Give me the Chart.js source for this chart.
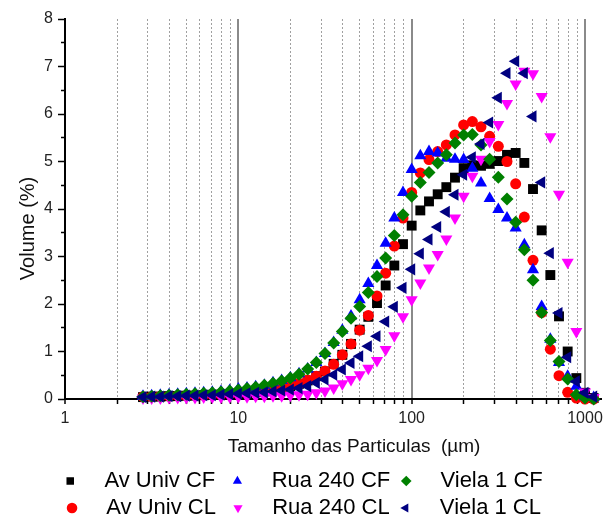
<!DOCTYPE html>
<html>
<head>
<meta charset="utf-8">
<script src="https://cdn.jsdelivr.net/npm/chart.js@4.4.0/dist/chart.umd.min.js"></script>
<style>
  html, body { margin: 0; padding: 0; background: #fff; }
  #chart { display: block; }
</style>
</head>
<body>
<canvas id="chart" width="608" height="524"></canvas>
<script>
// particle size classes (um), 20 per decade
const sizes = [2.818, 3.162, 3.548, 3.981, 4.467, 5.012, 5.623, 6.310, 7.079, 7.943, 8.913,
    10.00, 11.22, 12.59, 14.13, 15.85, 17.78, 19.95, 22.39, 25.12, 28.18,
    31.62, 35.48, 39.81, 44.67, 50.12, 56.23, 63.10, 70.79, 79.43, 89.13,
    100.0, 112.2, 125.9, 141.3, 158.5, 177.8, 199.5, 223.9, 251.2, 281.8,
    316.2, 354.8, 398.1, 446.7, 501.2, 562.3, 631.0, 707.9, 794.3, 891.3,
    1000, 1122];

// volume (%) per size class
const avUnivCF = [0.04, 0.05, 0.05, 0.06, 0.06, 0.07, 0.07, 0.08, 0.09, 0.09, 0.10, 0.11,
    0.12, 0.14, 0.16, 0.19, 0.22, 0.27, 0.32, 0.39, 0.48, 0.58,
    0.74, 0.93, 1.16, 1.46, 1.73, 2.02, 2.39, 2.81, 3.26, 3.65,
    3.97, 4.16, 4.31, 4.46, 4.66, 4.86, 4.92, 4.91, 4.95, 5.01,
    5.14, 5.18, 4.97, 4.42, 3.55, 2.61, 1.74, 1.00, 0.44, 0.13, 0.02];
const avUnivCL = [0.05, 0.05, 0.06, 0.06, 0.07, 0.07, 0.08, 0.08, 0.09, 0.10, 0.11, 0.12,
    0.13, 0.15, 0.17, 0.20, 0.23, 0.28, 0.33, 0.40, 0.48, 0.59,
    0.73, 0.93, 1.16, 1.45, 1.76, 2.17, 2.65, 3.22, 3.81, 4.35,
    4.76, 5.04, 5.21, 5.35, 5.56, 5.77, 5.84, 5.73, 5.53, 5.32,
    5.00, 4.53, 3.83, 2.92, 1.82, 1.05, 0.49, 0.14, 0.02, 0, 0];
const rua240CF = [0.06, 0.07, 0.08, 0.09, 0.10, 0.11, 0.12, 0.13, 0.14, 0.16, 0.18, 0.21,
    0.23, 0.26, 0.29, 0.34, 0.39, 0.45, 0.53, 0.63, 0.77, 0.96,
    1.19, 1.45, 1.75, 2.09, 2.43, 2.81, 3.28, 3.81, 4.35, 4.83,
    5.12, 5.21, 5.18, 5.07, 5.05, 5.04, 4.86, 4.55, 4.22, 3.99,
    3.81, 3.60, 3.25, 2.72, 1.95, 1.26, 0.77, 0.48, 0.27, 0.05, 0.03];
const rua240CL = [0.02, 0.02, 0.02, 0.03, 0.03, 0.03, 0.03, 0.04, 0.04, 0.04, 0.05, 0.05,
    0.05, 0.06, 0.06, 0.07, 0.07, 0.08, 0.09, 0.10, 0.13, 0.17,
    0.23, 0.32, 0.41, 0.51, 0.65, 0.81, 1.04, 1.33, 1.73, 2.09,
    2.44, 2.76, 3.04, 3.37, 3.81, 4.27, 4.69, 5.05, 5.42, 5.78,
    6.22, 6.63, 6.90, 6.85, 6.37, 5.52, 4.31, 2.88, 1.42, 0.15, 0.03];
const viela1CF = [0.05, 0.06, 0.07, 0.08, 0.09, 0.10, 0.11, 0.12, 0.13, 0.15, 0.17, 0.19,
    0.22, 0.25, 0.29, 0.33, 0.38, 0.44, 0.52, 0.63, 0.77, 0.96,
    1.18, 1.42, 1.70, 1.95, 2.24, 2.58, 2.97, 3.44, 3.88, 4.27,
    4.56, 4.77, 4.97, 5.14, 5.39, 5.56, 5.57, 5.35, 5.05, 4.67,
    4.21, 3.72, 3.14, 2.50, 1.82, 1.23, 0.79, 0.42, 0.09, 0.02, 0];
const viela1CL = [0.04, 0.05, 0.05, 0.06, 0.06, 0.07, 0.07, 0.08, 0.08, 0.09, 0.10, 0.11,
    0.12, 0.13, 0.14, 0.16, 0.18, 0.20, 0.23, 0.27, 0.34, 0.41,
    0.51, 0.62, 0.76, 0.90, 1.11, 1.32, 1.63, 1.94, 2.34, 2.73,
    3.06, 3.36, 3.62, 3.94, 4.30, 4.72, 5.09, 5.37, 5.82, 6.34,
    6.86, 7.11, 6.86, 5.95, 4.56, 3.07, 1.81, 0.88, 0.37, 0.13, 0.05];

const xTickLabels = [1, 10, 100, 1000];
const yTickLabels = [0, 1, 2, 3, 4, 5, 6, 7, 8];
const legendOrder = ['Av Univ CF', 'Rua 240 CF', 'Viela 1 CF', 'Av Univ CL', 'Rua 240 CL', 'Viela 1 CL'];

// 1..9, 10..90, 100..900, 1000
const xTickValues = [];
[1, 10, 100].forEach(p => { for (let m = 1; m <= 9; m++) xTickValues.push(m * p); });
xTickValues.push(1000);
const yTickValues = [];
for (let v = 0; v <= 8; v += 0.5) yTickValues.push(v);

const isDecade = v => xTickLabels.includes(v);
const toPoints = vals => vals.map((v, i) => ({ x: sizes[i], y: v }));

const series = (label, vals, color, pointStyle, rotation, radius, order) => ({
    label,
    data: toPoints(vals),
    pointStyle,
    pointRotation: rotation,
    pointRadius: radius,
    backgroundColor: color,
    borderColor: color,
    borderWidth: 0,
    showLine: false,
    clip: false,
    order
});

Chart.defaults.font.family = '"Liberation Sans", Arial, sans-serif';

const ctx = document.getElementById('chart').getContext('2d');
const psdChart = new Chart(ctx, {
    type: 'scatter',
    data: {
        datasets: [
            series('Av Univ CF', avUnivCF, '#000000', 'rect', 0, 7, 5),
            series('Av Univ CL', avUnivCL, '#ff0000', 'circle', 0, 5.5, 4),
            series('Rua 240 CF', rua240CF, '#0000ff', 'triangle', 0, 7, 3),
            series('Rua 240 CL', rua240CL, '#ff00ff', 'triangle', 180, 7, 2),
            series('Viela 1 CF', viela1CF, '#008000', 'rectRot', 0, 6.5, 1),
            series('Viela 1 CL', viela1CL, '#000080', 'triangle', 270, 7, 0)
        ]
    },
    options: {
        responsive: false,
        animation: false,
        devicePixelRatio: 1,
        events: [],
        layout: { padding: { top: 19, right: 6, bottom: 0, left: 0 } },
        scales: {
            x: {
                type: 'logarithmic',
                min: 1,
                max: 1235,
                afterBuildTicks: scale => { scale.ticks = xTickValues.map(v => ({ value: v })); },
                afterFit: scale => { scale.height = 66; },
                ticks: {
                    autoSkip: false,
                    maxRotation: 0,
                    minRotation: 0,
                    padding: 5,
                    color: '#222',
                    font: { size: 16 },
                    callback: value => isDecade(value) ? String(value) : ''
                },
                grid: {
                    color: c => (c.tick && isDecade(c.tick.value)) ? '#8a8a8a' : '#a0a0a0',
                    lineWidth: c => (c.tick && isDecade(c.tick.value)) ? 2 : 1,
                    tickColor: '#000',
                    tickLength: 5,
                    tickWidth: 1.5
                },
                border: {
                    color: '#000',
                    width: 2,
                    dash: c => (c.tick && !isDecade(c.tick.value)) ? [2, 2] : []
                },
                title: {
                    display: true,
                    text: '        Tamanho das Particulas  (\u00b5m)',
                    color: '#111',
                    font: { size: 19 },
                    padding: { top: 4, bottom: 7 }
                }
            },
            y: {
                min: 0,
                max: 8,
                afterBuildTicks: scale => { scale.ticks = yTickValues.map(v => ({ value: v })); },
                afterFit: scale => { scale.width = 65; },
                ticks: {
                    padding: 5,
                    color: '#222',
                    font: { size: 16 },
                    callback: value => yTickLabels.includes(value) ? String(value) : ''
                },
                grid: {
                    drawOnChartArea: false,
                    tickLength: 7,
                    tickColor: '#000',
                    tickWidth: 1.5,
                    // minor ticks: only the inner part of the tick is drawn
                    tickBorderDash: c => (c.tick && !yTickLabels.includes(c.tick.value)) ? [0, 3, 20] : []
                },
                border: { color: '#000', width: 2 },
                title: {
                    display: true,
                    text: 'Volume (%)       ',
                    color: '#111',
                    font: { size: 20 },
                    padding: { top: 16, bottom: 0 }
                }
            }
        },
        plugins: {
            tooltip: { enabled: false },
            legend: {
                position: 'bottom',
                align: 'center',
                maxHeight: 59,
                labels: {
                    usePointStyle: true,
                    boxWidth: 22,
                    boxHeight: 7.5,
                    padding: 5,
                    color: '#000',
                    font: { size: 22 },
                    generateLabels: chart => Chart.defaults.plugins.legend.labels.generateLabels(chart)
                        .map(item => ({ ...item, text: '  ' + item.text + (item.text.startsWith('Av') ? ' ' : '') })),
                    sort: (a, b) => legendOrder.indexOf(a.text.trim()) - legendOrder.indexOf(b.text.trim())
                }
            }
        }
    }
});
</script>
</body>
</html>
